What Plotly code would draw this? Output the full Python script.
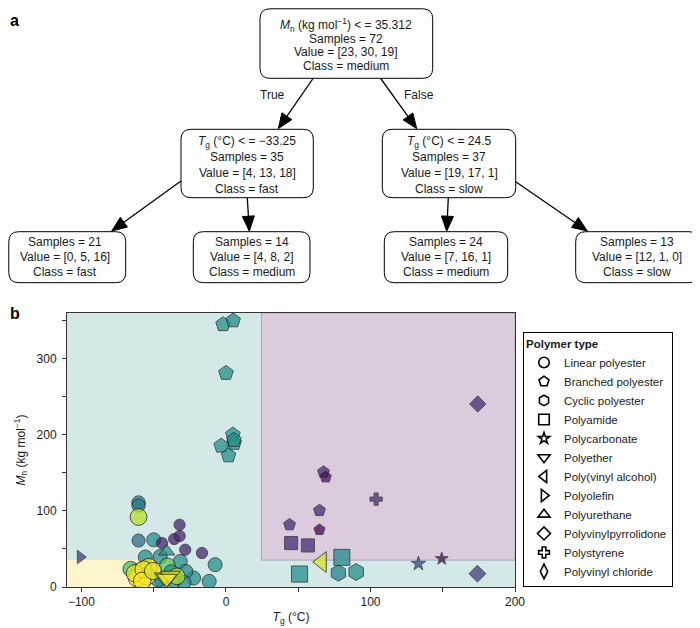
import math
import plotly.graph_objects as go

# ---------------- data ----------------
# decision tree thresholds
mn_split = 35.312
tg_split_low = -33.25
tg_split_high = 24.5
x_range = [-110, 200]
y_range = [0, 360]

polymer_types = ["Linear polyester", "Branched polyester", "Cyclic polyester", "Polyamide",
                 "Polycarbonate", "Polyether", "Poly(vinyl alcohol)", "Polyolefin",
                 "Polyurethane", "Polyvinylpyrrolidone", "Polystyrene", "Polyvinyl chloride"]

# Linear polyester (Tg in degC, Mn in kg/mol, rate = viridis value)
linear_tg = [-60.5, -60.5, -60.5, -60.5, -50, -55.8, -45.5, -31.6, -7.5, -11.6, -22.4, -27.7, -29,
             -44.3, -35.8, -32.1, -32, -28.2, -16.6,
             -66, -40.5, -44, -36, -38, -47,
             -59.3, -53.6, -61.6, -54.7, -63, -57, -58, -50.5, -34]
linear_mn = [111, 107, 92, 61, 62, 39.4, 40, 33.6, 29.3, 7.4, 11.8, 20.5, 6,
             57.7, 63, 81.8, 67, 49, 44.6,
             23.6, 28, 6, 8, 20, 9,
             20.5, 26, 11.8, 14, 18, 23, 8, 21, 14]
linear_rate = [0.42, 0.4, 0.9, 0.36, 0.5, 0.5, 0.5, 0.5, 0.5, 0.5, 0.5, 0.5, 0.5,
               0.1, 0.1, 0.1, 0.1, 0.1, 0.1,
               0.7, 0.72, 0.5, 0.5, 0.5, 0.5,
               1.0, 1.0, 1.0, 1.0, 0.97, 0.97, 1.0, 0.95, 0.88]

branched_tg = [-2, 5, 0, 4.8, 5.7, -3.3, 1.8, 5.5, 44, 64.7, 64.7, 67.5, 69]
branched_mn = [345, 350, 281, 200, 189, 185.4, 172.7, 193, 81.8, 100.5, 75.2, 151, 144.4]
branched_rate = [0.5, 0.48, 0.5, 0.5, 0.5, 0.5, 0.5, 0.5, 0.12, 0.12, 0.02, 0.12, 0.04]

cyclic_tg = [77.8, 90.1]
cyclic_mn = [18.4, 19.7]
cyclic_rate = [0.45, 0.5]

polyamide_tg = [45.1, 56.7, 80.2, 50.9]
polyamide_mn = [57.7, 54.6, 38.9, 17]
polyamide_rate = [0.12, 0.12, 0.48, 0.5]

polycarbonate_tg = [133.2, 149.3]
polycarbonate_mn = [30.6, 37.1]
polycarbonate_rate = [0.2, 0.02]

polyether_tg = [-43, -38.6, -41]
polyether_mn = [13, 15, 11]
polyether_rate = [0.9, 0.97, 1.0]

pva_tg = [66.3]
pva_mn = [32.8]
pva_rate = [0.95]

polyolefin_tg = [-100.8]
polyolefin_mn = [39.4]
polyolefin_rate = [0.18]

polyurethane_tg = [-41]
polyurethane_mn = [46.7]
polyurethane_rate = [0.5]

pvp_tg = [174.2]
pvp_mn = [240.5]
pvp_rate = [0.12]

polystyrene_tg = [103.9]
polystyrene_mn = [115.5]
polystyrene_rate = [0.12]

pvc_tg = [174]
pvc_mn = [17.5]
pvc_rate = [0.18]

# tree node texts
tree_root = ["<i>M</i><sub>n</sub> (kg mol<sup>\u22121</sup>) &lt; = 35.312", "Samples = 72",
             "Value = [23, 30, 19]", "Class = medium"]
tree_l = ["<i>T</i><sub>g</sub> (\u00b0C) &lt; = \u221233.25", "Samples = 35",
          "Value = [4, 13, 18]", "Class = fast"]
tree_r = ["<i>T</i><sub>g</sub> (\u00b0C) &lt; = 24.5", "Samples = 37",
          "Value = [19, 17, 1]", "Class = slow"]
tree_ll = ["Samples = 21", "Value = [0, 5, 16]", "Class = fast"]
tree_lr = ["Samples = 14", "Value = [4, 8, 2]", "Class = medium"]
tree_rl = ["Samples = 24", "Value = [7, 16, 1]", "Class = medium"]
tree_rr = ["Samples = 13", "Value = [12, 1, 0]", "Class = slow"]

# ---------------- styling / layout ----------------
# The page places the figure 8 px in from the top-left corner, so the figure is
# 692x620 and every reference pixel position is shifted by that offset.
OFF = 8
W, H = 700 - OFF, 628 - OFF
PL, PR, PT, PB = 67, 515, 313, 587   # plot area in reference-window pixels
FONT = "Liberation Sans, Arial, Helvetica, sans-serif"
TXT = "#1a1a1a"


def px(xp):
    return (xp - PL) / (PR - PL)


def py(yp):
    return (PB - yp) / (PB - PT)


series = [
    ("Linear polyester", linear_tg, linear_mn, linear_rate, "circle", 1.0),
    ("Branched polyester", branched_tg, branched_mn, branched_rate, "pentagon", 1.1),
    ("Cyclic polyester", cyclic_tg, cyclic_mn, cyclic_rate, "hexagon", 1.2),
    ("Polyamide", polyamide_tg, polyamide_mn, polyamide_rate, "square", 1.15),
    ("Polycarbonate", polycarbonate_tg, polycarbonate_mn, polycarbonate_rate, "star", 0.9),
    ("Polyether", polyether_tg, polyether_mn, polyether_rate, "triangle-down", 1.0),
    ("Poly(vinyl alcohol)", pva_tg, pva_mn, pva_rate, "triangle-left", 1.05),
    ("Polyolefin", polyolefin_tg, polyolefin_mn, polyolefin_rate, "triangle-right", 1.0),
    ("Polyurethane", polyurethane_tg, polyurethane_mn, polyurethane_rate, "triangle-up", 1.0),
    ("Polyvinylpyrrolidone", pvp_tg, pvp_mn, pvp_rate, "diamond", 1.1),
    ("Polystyrene", polystyrene_tg, polystyrene_mn, polystyrene_rate, "cross", 0.9),
    ("Polyvinyl chloride", pvc_tg, pvc_mn, pvc_rate, "diamond", 1.1),
]

legend_symbols = {"Linear polyester": "circle-open", "Branched polyester": "pentagon-open",
                  "Cyclic polyester": "hexagon-open", "Polyamide": "square-open",
                  "Polycarbonate": "star-open", "Polyether": "triangle-down-open",
                  "Poly(vinyl alcohol)": "triangle-left-open", "Polyolefin": "triangle-right-open",
                  "Polyurethane": "triangle-up-open", "Polyvinylpyrrolidone": "diamond-open",
                  "Polystyrene": "cross-open", "Polyvinyl chloride": "diamond-tall-open"}
legend_sizes = {"Polycarbonate": 8.5, "Polystyrene": 9, "Polyvinylpyrrolidone": 10}

fig = go.Figure()

# data traces (no legend)
for name, xs, ys, rs, sym, mult in series:
    fig.add_trace(go.Scatter(
        x=xs, y=ys, mode="markers", showlegend=False, name=name,
        marker=dict(symbol=sym, color=rs, colorscale="Viridis", cmin=0, cmax=1,
                    size=[(10.5 + 7 * r) * mult for r in rs], opacity=0.75,
                    line=dict(color="#222222", width=1)),
    ))

# legend-only traces (hollow black symbols, like the reference legend)
for name in polymer_types:
    fig.add_trace(go.Scatter(
        x=[None], y=[None], mode="markers", name=name, showlegend=True,
        marker=dict(symbol=legend_symbols[name], color="black",
                    size=legend_sizes.get(name, 10.5),
                    line=dict(color="black", width=1.6)),
    ))

shapes = []
# decision regions
shapes.append(dict(type="rect", xref="x", yref="y", x0=x_range[0], x1=x_range[1],
                   y0=y_range[0], y1=y_range[1], fillcolor="#d3e8e7", line=dict(width=0),
                   layer="below"))
shapes.append(dict(type="rect", xref="x", yref="y", x0=x_range[0], x1=tg_split_low,
                   y0=y_range[0], y1=mn_split, fillcolor="#fdf6cc", line=dict(width=0),
                   layer="below"))
shapes.append(dict(type="rect", xref="x", yref="y", x0=tg_split_high, x1=x_range[1],
                   y0=mn_split, y1=y_range[1], fillcolor="#dbcbdd",
                   line=dict(width=1, color="rgba(160,150,175,0.8)"), layer="below"))


def rrect(x0, y0, x1, y1, r=10):
    pts = [
        ("M", [(x0 + r, y0)]), ("L", [(x1 - r, y0)]), ("Q", [(x1, y0), (x1, y0 + r)]),
        ("L", [(x1, y1 - r)]), ("Q", [(x1, y1), (x1 - r, y1)]), ("L", [(x0 + r, y1)]),
        ("Q", [(x0, y1), (x0, y1 - r)]), ("L", [(x0, y0 + r)]), ("Q", [(x0, y0), (x0 + r, y0)]),
    ]
    s = ""
    for cmd, ps in pts:
        s += cmd + " " + " ".join(f"{px(a):.5f},{py(b):.5f}" for a, b in ps) + " "
    return dict(type="path", xref="paper", yref="paper", path=s + "Z",
                fillcolor="white", line=dict(color="black", width=1), layer="above")


def arrow(sx, sy, tx, ty, hl=15, hw=6):
    dx, dy = tx - sx, ty - sy
    L = math.hypot(dx, dy)
    ux, uy = dx / L, dy / L
    bx, by = tx - ux * hl, ty - uy * hl
    nx, ny = -uy, ux
    out = [dict(type="line", xref="paper", yref="paper", x0=px(sx), y0=py(sy),
                x1=px(bx), y1=py(by), line=dict(color="black", width=1.3), layer="above")]
    p1 = (bx + nx * hw, by + ny * hw)
    p2 = (bx - nx * hw, by - ny * hw)
    path = (f"M {px(tx):.5f},{py(ty):.5f} L {px(p1[0]):.5f},{py(p1[1]):.5f} "
            f"L {px(p2[0]):.5f},{py(p2[1]):.5f} Z")
    out.append(dict(type="path", xref="paper", yref="paper", path=path,
                    fillcolor="black", line=dict(color="black", width=1), layer="above"))
    return out


annotations = []


def node(box, lines, ys, cx=None):
    shapes.append(rrect(*box))
    if cx is None:
        cx = (box[0] + box[2]) / 2
    for t, yy in zip(lines, ys):
        annotations.append(dict(xref="paper", yref="paper", x=px(cx), y=py(yy), text=t,
                                showarrow=False, xanchor="center", yanchor="middle",
                                font=dict(family=FONT, size=12, color=TXT)))


node((260, 8.8, 432.7, 78.3), tree_root, [25, 38.5, 52, 65.7], cx=346.3)
node((181, 129.3, 313.3, 197.7), tree_l, [141.7, 157, 173, 189])
node((382.3, 129.3, 515.7, 197.7), tree_r, [141.7, 157, 173, 189])
node((8.8, 231.7, 125.7, 282.7), tree_ll, [242.3, 257.3, 271.5], cx=65)
node((193.3, 231.7, 310, 282.7), tree_lr, [242.3, 257.3, 271.5])
node((384.3, 231.7, 507.7, 282.7), tree_rl, [242.3, 257.3, 271.5])
node((575.7, 231.7, 699, 282.7), tree_rr, [242.3, 257.3, 271.5])

shapes += arrow(313, 78.5, 278.3, 128.6)
shapes += arrow(380.7, 78.5, 416.7, 128.6)
shapes += arrow(181, 181, 111.7, 231)
shapes += arrow(247.3, 198, 249.3, 231.2)
shapes += arrow(448.3, 198, 446.7, 231.2)
shapes += arrow(515.7, 181.7, 587.3, 231)

for t, xx, yy in [("True", 272.7, 95), ("False", 419.3, 95)]:
    annotations.append(dict(xref="paper", yref="paper", x=px(xx), y=py(yy), text=t,
                            showarrow=False, xanchor="center", yanchor="middle",
                            font=dict(family=FONT, size=12, color=TXT)))

for t, xx, yy in [("a", 8, 20), ("b", 8, 313)]:
    annotations.append(dict(xref="paper", yref="paper", x=px(xx), y=py(yy), text=f"<b>{t}</b>",
                            showarrow=False, xanchor="left", yanchor="middle",
                            font=dict(family=FONT, size=16, color="black")))

axis_common = dict(showline=True, linecolor="#333333", linewidth=1, mirror=True,
                   ticks="outside", ticklen=4, tickcolor="#333333", showgrid=False,
                   zeroline=False, tickfont=dict(family=FONT, size=12, color=TXT),
                   title_font=dict(family=FONT, size=12, color=TXT))

fig.update_layout(
    width=W, height=H,
    margin=dict(l=PL - OFF, r=W - (PR - OFF), t=PT - OFF, b=H - (PB - OFF), autoexpand=False),
    paper_bgcolor="white", plot_bgcolor="white",
    xaxis=dict(range=x_range, tick0=0, dtick=100,
               minor=dict(ticks="outside", ticklen=4, dtick=50, tick0=0, tickcolor="#333333"),
               title=dict(text="<i>T</i><sub>g</sub> (\u00b0C)", standoff=4), **axis_common),
    yaxis=dict(range=y_range, tick0=0, dtick=100, ticklabelstandoff=3,
               minor=dict(ticks="outside", ticklen=4, dtick=50, tick0=0, tickcolor="#333333"),
               title=dict(text="<i>M</i><sub>n</sub> (kg mol<sup>\u22121</sup>)", standoff=8),
               **axis_common),
    legend=dict(x=px(523), y=py(332), xanchor="left", yanchor="top",
                bordercolor="black", borderwidth=1, bgcolor="white",
                font=dict(family=FONT, size=11.5, color=TXT),
                title=dict(text="<b>Polymer type</b>", font=dict(family=FONT, size=11.5, color=TXT)),
                tracegroupgap=0, itemwidth=30),
    shapes=shapes, annotations=annotations,
    font=dict(family=FONT, color=TXT),
)

fig.write_html("out.html")
